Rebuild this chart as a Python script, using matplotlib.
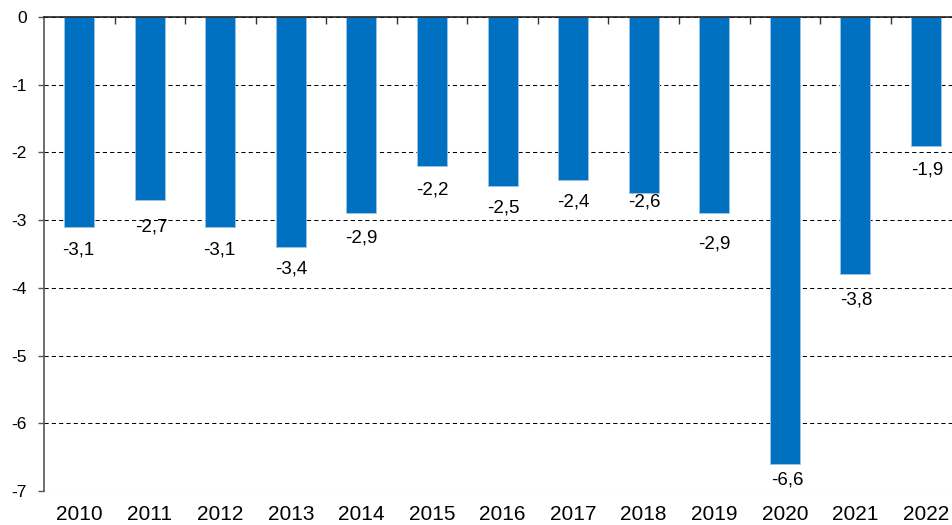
import matplotlib
matplotlib.use("Agg")
import matplotlib.pyplot as plt
import numpy as np

years = ["2010", "2011", "2012", "2013", "2014", "2015", "2016",
         "2017", "2018", "2019", "2020", "2021", "2022"]
values = [-3.1, -2.7, -3.1, -3.4, -2.9, -2.2, -2.5, -2.4, -2.6, -2.9, -6.6, -3.8, -1.9]
yticks = [0, -1, -2, -3, -4, -5, -6, -7]

# label placement (pixels below bar end / horizontal shift), as in the reference
label_dy = [23, 27, 23, 22, 25, 24, 22, 22.5, 9, 31, 16, 26, 24]
label_dx = [-1, 2, -1, 0.5, 0, 0, 0.5, 0.5, 0.5, 0, 3, 1, 1]

plt.rcParams['font.family'] = ['Liberation Sans', 'DejaVu Sans']

fig = plt.figure(figsize=(9.52, 5.25), dpi=100)
ax = fig.add_axes([0.0462, 0.0648, 0.9538, 0.9028])

x = np.arange(len(years))
ax.bar(x, values, width=0.425, color='#0070C0', edgecolor='#9DC3E6', linewidth=0.6, zorder=3)

for xi, v, dy, dx in zip(x, values, label_dy, label_dx):
    ax.annotate(f"{v:.1f}".replace('.', ','), (xi, v), xytext=(dx, -dy),
                textcoords='offset pixels', ha='center', va='center',
                fontsize=13.5, zorder=4)

ax.set_ylim(-7, 0)
ax.set_xlim(-0.5, 12.37)
ax.set_yticks(yticks)
ax.set_yticklabels([str(t) for t in yticks], fontsize=12.5)
ax.yaxis.grid(True, linestyle=(0, (4, 3)), color='black', linewidth=0.75, zorder=0)

ax.set_xticks(x)
ax.set_xticklabels(years, fontsize=15)
ax.tick_params(axis='x', which='major', length=0, pad=10)
ax.set_xticks(x[:-1] + 0.5, minor=True)
ax.tick_params(axis='x', which='minor', top=True, bottom=False, direction='in', length=5,
               width=1, color='#333333')
ax.tick_params(axis='y', length=4.5, width=1, color='#555555', pad=8)

for s in ['right', 'bottom']:
    ax.spines[s].set_visible(False)
ax.spines['top'].set_color('#222222')
ax.spines['top'].set_linewidth(1.2)
ax.spines['top'].set_zorder(5)
ax.spines['left'].set_color('#555555')
ax.spines['left'].set_linewidth(1.2)

fig.savefig("out.png", dpi=100)
